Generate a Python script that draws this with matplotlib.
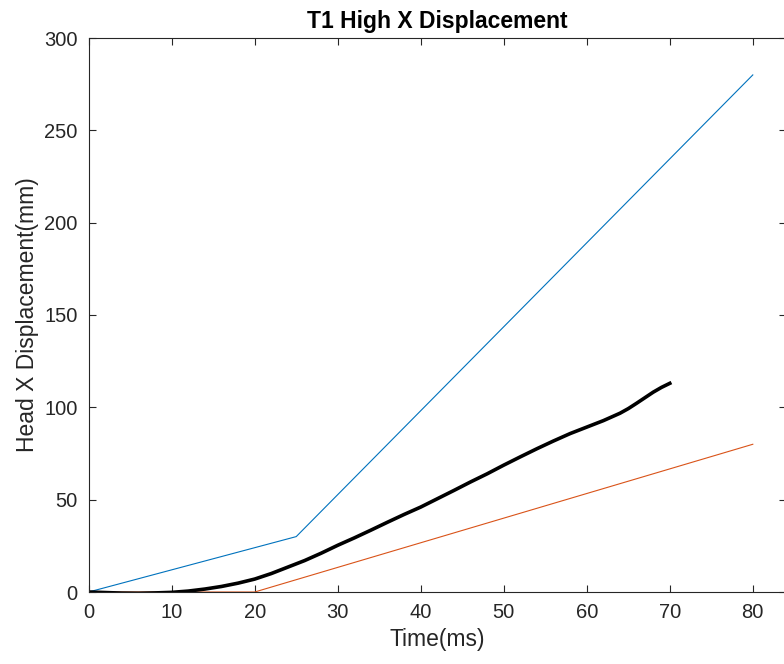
import matplotlib
matplotlib.use("Agg")
import matplotlib.pyplot as plt

plt.rcParams['font.family'] = ['Liberation Sans', 'DejaVu Sans']

# Data
blue_t = [0, 25, 80]
blue_y = [0, 30, 280]
orange_t = [0, 20, 80]
orange_y = [0, 0, 80]
black_t = [0, 2, 4, 6, 8, 10, 12, 14, 16, 18, 20, 22, 24, 26, 28, 30, 32, 34, 36,
           38, 40, 42, 44, 46, 48, 50, 52, 54, 56, 58, 60, 62, 64, 65, 66, 67, 68,
           69, 70]
black_y = [0, -0.3, -0.6, -0.7, -0.5, -0.2, 0.5, 1.6, 3.0, 4.8, 7.0, 10.0, 13.5,
           17.0, 21.0, 25.3, 29.3, 33.5, 37.8, 42.0, 46.0, 50.5, 55.0, 59.6, 64.0,
           68.7, 73.2, 77.6, 81.8, 85.8, 89.3, 92.8, 96.8, 99.3, 102.2, 105.2,
           108.2, 110.8, 113.0]

title = "T1 High X Displacement"
xlabel = "Time(ms)"
ylabel = "Head X Displacement(mm)"
xticks = [0, 10, 20, 30, 40, 50, 60, 70, 80]
yticks = [0, 50, 100, 150, 200, 250, 300]

fig = plt.figure(figsize=(7.84, 6.64), dpi=100)
ax = fig.add_axes([88.7/784, 72/664, (786-88.7)/784, (592-38)/664])

axc = '#262626'
ax.plot(blue_t, blue_y, color='#0072BD', lw=0.8)
ax.plot(orange_t, orange_y, color='#D95319', lw=0.8)
ax.plot(black_t, black_y, color='black', lw=2.6, solid_joinstyle='round')

ax.set_xlim(0, 84)
ax.set_ylim(0, 300)
ax.set_xticks(xticks)
ax.set_yticks(yticks)
for s in ax.spines.values():
    s.set_color(axc)
    s.set_linewidth(0.8)
ax.tick_params(direction='in', length=5, width=0.8, colors=axc, labelsize=14.5,
               top=True, right=True, pad=8)
ax.set_title(title, fontsize=16.5, fontweight='bold', color='black', pad=7)
ax.set_xlabel(xlabel, fontsize=16.5, color=axc, labelpad=4)
ax.set_ylabel(ylabel, fontsize=16.5, color=axc, labelpad=4)

fig.savefig("out.png", dpi=100)
